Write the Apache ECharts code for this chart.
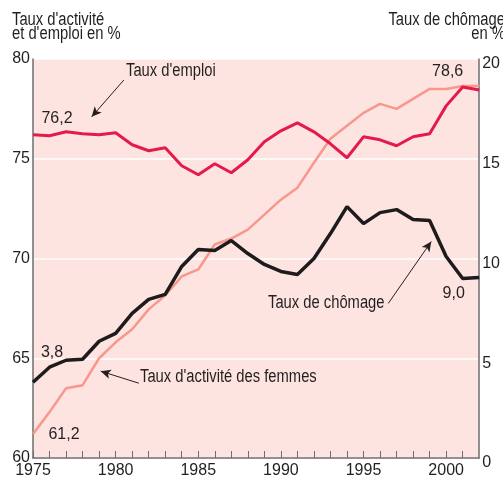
<!DOCTYPE html>
<html>
<head>
<meta charset="utf-8">
<script src="https://cdn.jsdelivr.net/npm/echarts@6/dist/echarts.min.js"></script>
<style>
  html, body { margin: 0; padding: 0; background: #fff; }
  #chart { width: 503px; height: 479px; }
</style>
</head>
<body>
<div id="chart"></div>
<script>
// ==================== Data ====================
const years = [1975, 1976, 1977, 1978, 1979, 1980, 1981, 1982, 1983, 1984,
               1985, 1986, 1987, 1988, 1989, 1990, 1991, 1992, 1993, 1994,
               1995, 1996, 1997, 1998, 1999, 2000, 2001, 2002];

// taux d'emploi (%), axe de gauche
const tauxEmploi = [76.2, 76.15, 76.35, 76.25, 76.2, 76.3, 75.7, 75.4, 75.55, 74.65,
                    74.2, 74.75, 74.3, 74.95, 75.85, 76.4, 76.8, 76.35, 75.75, 75.05,
                    76.1, 75.95, 75.65, 76.1, 76.25, 77.65, 78.6, 78.45];

// taux d'activité des femmes (%), axe de gauche
const activiteFemmes = [61.2, 62.3, 63.5, 63.65, 65.0, 65.8, 66.45, 67.45, 68.15, 69.1,
                        69.45, 70.7, 71.0, 71.45, 72.2, 72.95, 73.55, 74.8, 76.0, 76.65,
                        77.3, 77.75, 77.5, 78.0, 78.5, 78.5, 78.65, 78.65];

// taux de chômage (%), axe de droite
const tauxChomage = [3.8, 4.55, 4.9, 4.95, 5.85, 6.25, 7.25, 7.95, 8.2, 9.6,
                     10.45, 10.4, 10.9, 10.25, 9.7, 9.35, 9.2, 10.0, 11.25, 12.6,
                     11.75, 12.3, 12.45, 11.95, 11.9, 10.1, 9.0, 9.05];

const leftTicks = [60, 65, 70, 75, 80];
const rightTicks = [0, 5, 10, 15, 20];

// flèches des annotations [x, y] en unités de données
const arrowEmploi = [[1980.5, 78.95], [1978.55, 77.1]];
const arrowFemmes = [[1981.4, 63.75], [1979.1, 64.35]];
const arrowChomage = [[1996.5, 7.75], [1999.1, 10.85]];

// ==================== Helpers ====================
const FONT = '"Liberation Sans", Arial, sans-serif';
const TXT = '#231f20';
const NARROW = 0.82;   // imite une police étroite

function pairs(values) {
    return years.map((y, i) => [y, values[i]]);
}

function fr(v) {
    return v.toFixed(1).replace('.', ',');
}

function valueMark(year, values, offset) {
    const v = values[years.indexOf(year)];
    return {
        coord: [year, v],
        symbolSize: 0,
        label: { show: true, formatter: fr(v), offset: offset, color: TXT, fontFamily: FONT, fontSize: 16 }
    };
}

function arrowLine(coords) {
    return {
        silent: true,
        symbol: ['none', 'arrow'],
        symbolSize: [7, 10],
        lineStyle: { color: TXT, width: 1, type: 'solid' },
        label: { show: false },
        data: [[{ coord: coords[0] }, { coord: coords[1] }]]
    };
}

function note(text, x, y, align) {
    return {
        type: 'text', x: x, y: y, scaleX: NARROW,
        style: { text: text, fill: TXT, font: '18px ' + FONT, align: align || 'left', verticalAlign: 'middle' }
    };
}

// ==================== Chart ====================
const chart = echarts.init(document.getElementById('chart'));
chart.setOption({
    animation: false,
    textStyle: { fontFamily: FONT },
    grid: {
        left: 33, right: 20, top: 59, bottom: 21,
        show: true, backgroundColor: '#fde4e0', borderWidth: 0
    },
    xAxis: {
        type: 'value', min: 1975, max: 2002, interval: 1,
        axisLine: { show: true, lineStyle: { color: '#6d6e71', width: 1.5 } },
        axisTick: { show: true, inside: true, length: 7, lineStyle: { color: '#6d6e71', width: 1 } },
        axisLabel: {
            color: TXT, fontSize: 16, fontFamily: FONT, margin: 5,
            showMaxLabel: false,
            formatter: v => (v % 5 === 0 ? String(v) : '')
        },
        splitLine: { show: false }
    },
    yAxis: [{
        type: 'value', min: leftTicks[0], max: leftTicks[leftTicks.length - 1], interval: 5,
        axisLine: { show: true, lineStyle: { color: '#6d6e71', width: 1.5 } },
        axisTick: { show: false },
        axisLabel: { color: TXT, fontSize: 16, fontFamily: FONT, margin: 3 },
        splitLine: { show: true, lineStyle: { color: '#ffffff', width: 1.5 } }
    }, {
        type: 'value', min: rightTicks[0], max: rightTicks[rightTicks.length - 1], interval: 5,
        axisLine: { show: true, lineStyle: { color: '#6d6e71', width: 1.5 } },
        axisTick: { show: false },
        axisLabel: { color: TXT, fontSize: 16, fontFamily: FONT, margin: 3, verticalAlign: 'top', lineHeight: 10 },
        splitLine: { show: false }
    }],
    series: [{
        name: "Taux d'activité des femmes",
        type: 'line', yAxisIndex: 0, showSymbol: false, symbol: 'none',
        lineStyle: { color: '#f8978b', width: 2.5 },
        data: pairs(activiteFemmes),
        markLine: arrowLine(arrowFemmes),
        markPoint: { data: [valueMark(1975, activiteFemmes, [31, 1])] },
        z: 2
    }, {
        name: "Taux d'emploi",
        type: 'line', yAxisIndex: 0, showSymbol: false, symbol: 'none',
        lineStyle: { color: '#e6194b', width: 3 },
        data: pairs(tauxEmploi),
        markLine: arrowLine(arrowEmploi),
        markPoint: { data: [valueMark(1975, tauxEmploi, [24, -16]), valueMark(2001, tauxEmploi, [-15, -15])] },
        z: 3
    }, {
        name: 'Taux de chômage',
        type: 'line', yAxisIndex: 1, showSymbol: false, symbol: 'none',
        lineStyle: { color: '#1d1b1c', width: 3.5 },
        data: pairs(tauxChomage),
        markLine: arrowLine(arrowChomage),
        markPoint: { data: [valueMark(1975, tauxChomage, [19, -30]), valueMark(2001, tauxChomage, [-9, 15])] },
        z: 4
    }],
    graphic: [
        note("Taux d'activité", 12, 20),
        note("et d'emploi en %", 12, 34),
        note('Taux de chômage', 505, 20, 'right'),
        note('en %', 505, 34, 'right'),
        note("Taux d'emploi", 126, 71),
        note('Taux de chômage', 268, 303),
        note("Taux d'activité des femmes", 140, 377)
    ]
});

window.addEventListener('resize', () => chart.resize());
</script>
</body>
</html>
